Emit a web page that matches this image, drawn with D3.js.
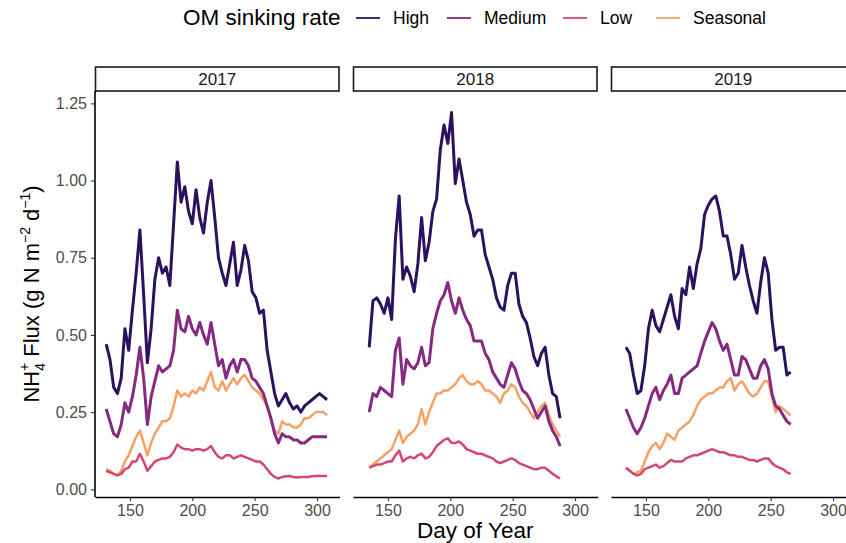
<!DOCTYPE html>
<html>
<head>
<meta charset="utf-8">
<script src="https://cdn.jsdelivr.net/npm/d3@7"></script>
<style>
  body { margin: 0; background: #fff; }
  svg { display: block; font-family: "Liberation Sans", Arial, sans-serif; }
</style>
</head>
<body>
<svg id="chart" width="846" height="543"></svg>
<script>
const years = ["2017", "2018", "2019"];
const seriesNames = ["High", "Medium", "Low", "Seasonal"];
const seriesColors = ["#2c115f", "#852a80", "#d3486b", "#f7a064"];
const xTicks = [150, 200, 250, 300];
const yTicks = [0, 0.25, 0.5, 0.75, 1.0, 1.25];

const days2017 = d3.range(131, 309, 3);
const high2017 = [0.47,0.42,0.33,0.31,0.36,0.52,0.45,0.58,0.70,0.84,0.63,0.41,0.52,0.68,0.75,0.70,0.72,0.66,0.86,1.06,0.93,0.98,0.90,0.86,0.97,0.88,0.83,0.93,1.00,0.88,0.75,0.70,0.66,0.73,0.80,0.66,0.71,0.79,0.74,0.64,0.62,0.57,0.58,0.45,0.38,0.31,0.27,0.29,0.31,0.28,0.26,0.27,0.25,0.27,0.28,0.29,0.30,0.31,0.30,0.29];
const medium2017 = [0.26,0.22,0.18,0.17,0.21,0.28,0.25,0.30,0.37,0.46,0.36,0.21,0.30,0.35,0.40,0.38,0.39,0.40,0.45,0.58,0.52,0.51,0.56,0.52,0.50,0.54,0.50,0.47,0.54,0.47,0.40,0.42,0.36,0.40,0.42,0.38,0.42,0.42,0.40,0.36,0.35,0.33,0.31,0.27,0.23,0.18,0.15,0.18,0.17,0.17,0.16,0.16,0.15,0.15,0.16,0.17,0.17,0.17,0.17,0.17];
const low2017 = [0.06,0.055,0.05,0.045,0.05,0.065,0.07,0.09,0.09,0.115,0.09,0.06,0.075,0.09,0.095,0.10,0.10,0.105,0.12,0.145,0.135,0.13,0.13,0.125,0.13,0.13,0.125,0.13,0.14,0.12,0.105,0.10,0.11,0.11,0.10,0.105,0.11,0.105,0.10,0.095,0.09,0.09,0.08,0.065,0.05,0.04,0.035,0.04,0.042,0.043,0.04,0.038,0.04,0.04,0.04,0.042,0.043,0.044,0.043,0.043];
const seasonal2017 = [0.065,0.06,0.05,0.045,0.06,0.09,0.11,0.14,0.17,0.19,0.15,0.11,0.15,0.18,0.20,0.22,0.22,0.23,0.27,0.32,0.30,0.31,0.30,0.32,0.31,0.33,0.32,0.35,0.38,0.33,0.32,0.35,0.32,0.34,0.36,0.34,0.36,0.37,0.35,0.33,0.32,0.31,0.29,0.27,0.23,0.19,0.18,0.22,0.21,0.21,0.20,0.20,0.21,0.23,0.23,0.24,0.25,0.25,0.25,0.24];

const days2018 = d3.range(135, 289, 3);
const high2018 = [0.46,0.61,0.62,0.60,0.57,0.62,0.55,0.81,0.95,0.68,0.72,0.69,0.64,0.73,0.88,0.74,0.80,0.90,0.94,1.10,1.18,1.12,1.22,0.99,1.07,1.00,0.93,0.89,0.82,0.84,0.84,0.76,0.72,0.68,0.62,0.59,0.58,0.66,0.70,0.70,0.60,0.56,0.54,0.49,0.43,0.40,0.44,0.46,0.37,0.31,0.30,0.23];
const medium2018 = [0.25,0.31,0.30,0.33,0.32,0.31,0.30,0.45,0.49,0.34,0.42,0.40,0.39,0.41,0.46,0.40,0.41,0.52,0.57,0.61,0.63,0.67,0.61,0.57,0.62,0.58,0.55,0.53,0.48,0.48,0.48,0.44,0.42,0.38,0.36,0.34,0.33,0.37,0.41,0.39,0.35,0.32,0.31,0.29,0.26,0.23,0.25,0.27,0.22,0.19,0.17,0.14];
const low2018 = [0.07,0.075,0.08,0.08,0.085,0.09,0.09,0.11,0.125,0.09,0.10,0.105,0.10,0.11,0.115,0.10,0.105,0.12,0.14,0.15,0.16,0.165,0.15,0.15,0.155,0.145,0.13,0.125,0.12,0.115,0.115,0.11,0.105,0.10,0.09,0.085,0.09,0.095,0.10,0.095,0.085,0.08,0.075,0.07,0.065,0.065,0.07,0.07,0.06,0.05,0.042,0.035];
const seasonal2018 = [0.07,0.08,0.09,0.10,0.11,0.12,0.13,0.16,0.19,0.15,0.17,0.18,0.19,0.21,0.26,0.21,0.25,0.28,0.31,0.31,0.32,0.32,0.33,0.34,0.36,0.37,0.35,0.34,0.34,0.35,0.34,0.32,0.32,0.31,0.30,0.28,0.31,0.32,0.34,0.33,0.30,0.28,0.27,0.25,0.23,0.25,0.27,0.28,0.24,0.21,0.19,0.17];

const days2019 = d3.range(134, 267, 3);
const high2019 = [0.46,0.44,0.37,0.31,0.32,0.40,0.52,0.58,0.53,0.51,0.55,0.59,0.63,0.56,0.52,0.65,0.63,0.72,0.65,0.73,0.78,0.89,0.92,0.94,0.95,0.90,0.82,0.82,0.76,0.68,0.70,0.79,0.72,0.66,0.61,0.57,0.67,0.75,0.70,0.55,0.45,0.46,0.46,0.37,0.38];
const medium2019 = [0.26,0.23,0.20,0.18,0.20,0.23,0.27,0.31,0.33,0.29,0.32,0.34,0.37,0.31,0.31,0.36,0.37,0.38,0.39,0.40,0.44,0.48,0.51,0.54,0.52,0.48,0.45,0.47,0.42,0.37,0.37,0.43,0.42,0.39,0.36,0.36,0.40,0.42,0.39,0.31,0.27,0.26,0.24,0.22,0.21];
const low2019 = [0.07,0.06,0.05,0.045,0.05,0.065,0.07,0.075,0.08,0.07,0.075,0.085,0.095,0.09,0.09,0.09,0.10,0.105,0.11,0.11,0.115,0.12,0.125,0.13,0.125,0.12,0.12,0.115,0.11,0.11,0.105,0.105,0.10,0.095,0.095,0.09,0.095,0.10,0.10,0.085,0.075,0.07,0.065,0.055,0.05];
const seasonal2019 = [0.07,0.06,0.05,0.055,0.06,0.09,0.12,0.14,0.15,0.13,0.15,0.18,0.17,0.16,0.19,0.20,0.21,0.22,0.24,0.27,0.29,0.30,0.31,0.31,0.32,0.33,0.33,0.35,0.36,0.32,0.34,0.35,0.33,0.31,0.30,0.31,0.33,0.35,0.35,0.30,0.25,0.27,0.26,0.25,0.24];

const panelData = [
  { year: "2017", days: days2017, values: [high2017, medium2017, low2017, seasonal2017] },
  { year: "2018", days: days2018, values: [high2018, medium2018, low2018, seasonal2018] },
  { year: "2019", days: days2019, values: [high2019, medium2019, low2019, seasonal2019] },
];

const svg = d3.select("#chart");

const panelW = 244.5, panelGap = 13.5;
const panelLeft = 95;
const stripTop = 67, stripH = 24;
const plotTop = stripTop + stripH, plotBottom = 497;
const tickFont = 16;

const x = d3.scaleLinear().domain([122, 318]).range([0, panelW]);
const y = d3.scaleLinear().domain([-0.025, 1.29]).range([plotBottom, plotTop]);

const line = d3.line()
  .x(d => x(d[0]))
  .y(d => y(d[1]));

panelData.forEach((p, i) => {
  const g = svg.append("g")
    .attr("transform", "translate(" + (panelLeft + i * (panelW + panelGap)) + ",0)");

  // strip
  g.append("rect")
    .attr("x", 0.5).attr("y", stripTop)
    .attr("width", panelW - 1).attr("height", stripH)
    .attr("fill", "#fff")
    .attr("stroke", "#1a1a1a")
    .attr("stroke-width", 1.6);
  g.append("text")
    .attr("x", panelW / 2).attr("y", stripTop + stripH / 2 + 6)
    .attr("text-anchor", "middle")
    .attr("font-size", 17)
    .attr("fill", "#1a1a1a")
    .text(p.year);

  // seasonal first so High sits on top
  [3, 2, 1, 0].forEach(k => {
    const pts = p.days.map((d, j) => [d, p.values[k][j]]);
    g.append("path")
      .datum(pts)
      .attr("fill", "none")
      .attr("stroke", seriesColors[k])
      .attr("stroke-width", k < 2 ? 3 : 2.5)
      .attr("stroke-linejoin", "round")
      .attr("d", line);
  });

  // x axis
  const xa = g.append("g")
    .attr("transform", "translate(0," + plotBottom + ")")
    .call(d3.axisBottom(x).tickValues(xTicks).tickSize(4).tickPadding(4).tickSizeOuter(0));
  xa.select(".domain").attr("stroke", "#000").attr("stroke-width", 1.6);
  xa.selectAll(".tick line").attr("stroke", "#333").attr("stroke-width", 1.1);
  xa.selectAll(".tick text")
    .attr("font-size", tickFont)
    .attr("fill", "#4d4d4d")
    .attr("font-family", "Liberation Sans, Arial, sans-serif");

  if (i === 0) {
    const ya = g.append("g")
      .call(d3.axisLeft(y).tickValues(yTicks).tickFormat(d3.format(".2f")).tickSize(4).tickPadding(4).tickSizeOuter(0));
    ya.select(".domain").attr("stroke", "#000").attr("stroke-width", 1.6)
      .attr("d", "M0," + plotBottom + "V" + plotTop);
    ya.selectAll(".tick line").attr("stroke", "#333").attr("stroke-width", 1.1);
    ya.selectAll(".tick text")
      .attr("font-size", tickFont)
      .attr("fill", "#4d4d4d")
      .attr("font-family", "Liberation Sans, Arial, sans-serif");
  }
});

// axis titles
const totalW = 3 * panelW + 2 * panelGap;
svg.append("text")
  .attr("x", panelLeft + totalW / 2).attr("y", 538)
  .attr("text-anchor", "middle")
  .attr("font-size", 22.5)
  .attr("fill", "#000")
  .text("Day of Year");

const yt = svg.append("text")
  .attr("transform", "translate(39," + ((plotTop + plotBottom) / 2) + ") rotate(-90)")
  .attr("text-anchor", "middle")
  .attr("font-size", 22)
  .attr("fill", "#000");
yt.append("tspan").text("NH");
yt.append("tspan").attr("font-size", 14).attr("dy", 6).text("4");
yt.append("tspan").attr("font-size", 14).attr("dy", -16).attr("dx", -8).text("+");
yt.append("tspan").attr("dy", 10).text(" Flux (g N m");
yt.append("tspan").attr("font-size", 14).attr("dy", -9).text("\u22122");
yt.append("tspan").attr("dy", 9).text(" d");
yt.append("tspan").attr("font-size", 14).attr("dy", -9).text("\u22121");
yt.append("tspan").attr("dy", 9).text(")");

// legend
const legend = svg.append("g");
legend.append("text")
  .attr("x", 183).attr("y", 25)
  .attr("font-size", 22.5)
  .attr("fill", "#000")
  .text("OM sinking rate");
const keyX = [356, 447, 563, 656];
seriesNames.forEach((name, k) => {
  legend.append("line")
    .attr("x1", keyX[k]).attr("x2", keyX[k] + 24)
    .attr("y1", 18).attr("y2", 18)
    .attr("stroke", seriesColors[k])
    .attr("stroke-width", 1.8);
  legend.append("text")
    .attr("x", keyX[k] + 37).attr("y", 24)
    .attr("font-size", 17.5)
    .attr("fill", "#000")
    .text(name);
});
</script>
</body>
</html>
